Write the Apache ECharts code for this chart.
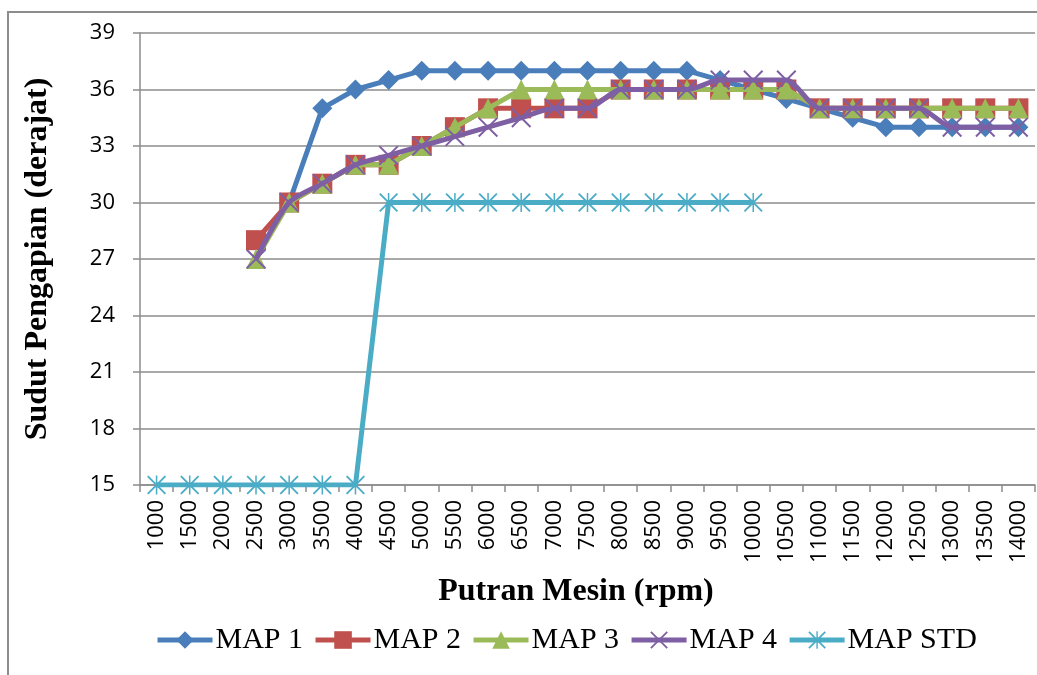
<!DOCTYPE html>
<html>
<head>
<meta charset="utf-8">
<script src="https://cdn.jsdelivr.net/npm/echarts@6/dist/echarts.min.js"></script>
<style>
  html, body { margin: 0; padding: 0; background: #ffffff; }
  #chart { width: 1037px; height: 675px; }
</style>
</head>
<body>
<div id="chart"></div>
<script>
// Engine speed categories (rpm)
const categories = ['1000','1500','2000','2500','3000','3500','4000','4500','5000','5500',
  '6000','6500','7000','7500','8000','8500','9000','9500','10000','10500',
  '11000','11500','12000','12500','13000','13500','14000'];

// Ignition angle (degrees) per map
const map1 = [null,null,null,null,30,35,36,36.5,37,37,37,37,37,37,37,37,37,36.5,36,35.5,35,34.5,34,34,34,34,34];
const map2 = [null,null,null,28,30,31,32,32,33,34,35,35,35,35,36,36,36,36,36,36,35,35,35,35,35,35,35];
const map3 = [null,null,null,27,30,31,32,32,33,34,35,36,36,36,36,36,36,36,36,36,35,35,35,35,35,35,35];
const map4 = [null,null,null,27,30,31,32,32.5,33,33.5,34,34.5,35,35,36,36,36,36.5,36.5,36.5,35,35,35,35,34,34,34];
const mapStd = [15,15,15,15,15,15,15,30,30,30,30,30,30,30,30,30,30,30,30,null,null,null,null,null,null,null,null];

const yTicks = { min: 15, max: 39, interval: 3 };

// Marker shapes: an "x" cross and an asterisk (x with vertical bar)
const crossPath = 'path://M0,7L7,0L100,93L93,100ZM93,0L100,7L7,100L0,93Z';
const starPath = 'path://M0,7L7,0L100,93L93,100ZM93,0L100,7L7,100L0,93ZM46,0L54,0L54,100L46,100Z';

const gridColor = '#8c8c8c';
const tickFont = { fontFamily: 'Open Sans', fontSize: 22, color: '#000000' };

function lineSeries(name, data, color, symbol, size, z, extra) {
  return Object.assign({
    name: name,
    type: 'line',
    data: data,
    z: z,
    symbol: symbol,
    symbolSize: size,
    showAllSymbol: true,
    connectNulls: false,
    lineStyle: { color: color, width: 5 },
    itemStyle: { color: color, borderWidth: 0 },
    emphasis: { disabled: true },
    animation: false
  }, extra || {});
}

const chart = echarts.init(document.getElementById('chart'), null, { renderer: 'canvas' });

chart.setOption({
  backgroundColor: '#ffffff',
  animation: false,
  grid: { left: 140, right: 2, top: 33, bottom: 190, containLabel: false },
  title: {
    text: 'Putran Mesin (rpm)',
    left: 571,
    top: 571,
    textAlign: 'center',
    textStyle: { fontFamily: 'Liberation Serif', fontWeight: 'bold', fontSize: 32, color: '#000' }
  },
  legend: {
    left: 150,
    top: 620,
    itemWidth: 55,
    itemHeight: 22,
    itemGap: 10,
    lineStyle: { width: 5 },
    textStyle: { fontFamily: 'Liberation Serif', fontSize: 30, color: '#000', padding: [0, 0, 0, -2] },
    data: ['MAP 1', 'MAP 2', 'MAP 3', 'MAP 4', 'MAP STD']
  },
  xAxis: {
    type: 'category',
    data: categories,
    boundaryGap: true,
    axisLine: { lineStyle: { color: gridColor, width: 1.5 } },
    axisTick: { show: true, length: 7, lineStyle: { color: gridColor, width: 1.5 } },
    axisLabel: Object.assign({ interval: 0, rotate: 90, margin: 15, hideOverlap: false }, tickFont),
    splitLine: { show: false }
  },
  yAxis: {
    type: 'value',
    min: yTicks.min,
    max: yTicks.max,
    interval: yTicks.interval,
    name: 'Sudut Pengapian (derajat)',
    nameLocation: 'middle',
    nameRotate: 90,
    nameGap: 86,
    nameTextStyle: { fontFamily: 'Liberation Serif', fontWeight: 'bold', fontSize: 32, color: '#000' },
    axisLine: { show: true, lineStyle: { color: gridColor, width: 1.5 } },
    axisTick: { show: true, length: 7, lineStyle: { color: gridColor, width: 1.5 } },
    axisLabel: Object.assign({ margin: 25 }, tickFont),
    splitLine: { show: true, lineStyle: { color: gridColor, width: 1.5 } }
  },
  graphic: [{
    type: 'polyline',
    shape: { points: [[8, 675], [8, 12], [1037, 12]] },
    style: { stroke: '#8c8c8c', lineWidth: 2, fill: null },
    silent: true
  }],
  series: [
    lineSeries('MAP 1', map1, '#4a7ebb', 'diamond', 20, 2),
    lineSeries('MAP 2', map2, '#c0504d', 'rect', 20, 3),
    lineSeries('MAP 3', map3, '#9bbb59', 'triangle', 20, 4),
    lineSeries('MAP 4', map4, '#7f5fa3', crossPath, 20, 5, { smooth: 0.25 }),
    lineSeries('MAP STD', mapStd, '#4bacc6', starPath, 19, 6)
  ]
});
</script>
</body>
</html>
